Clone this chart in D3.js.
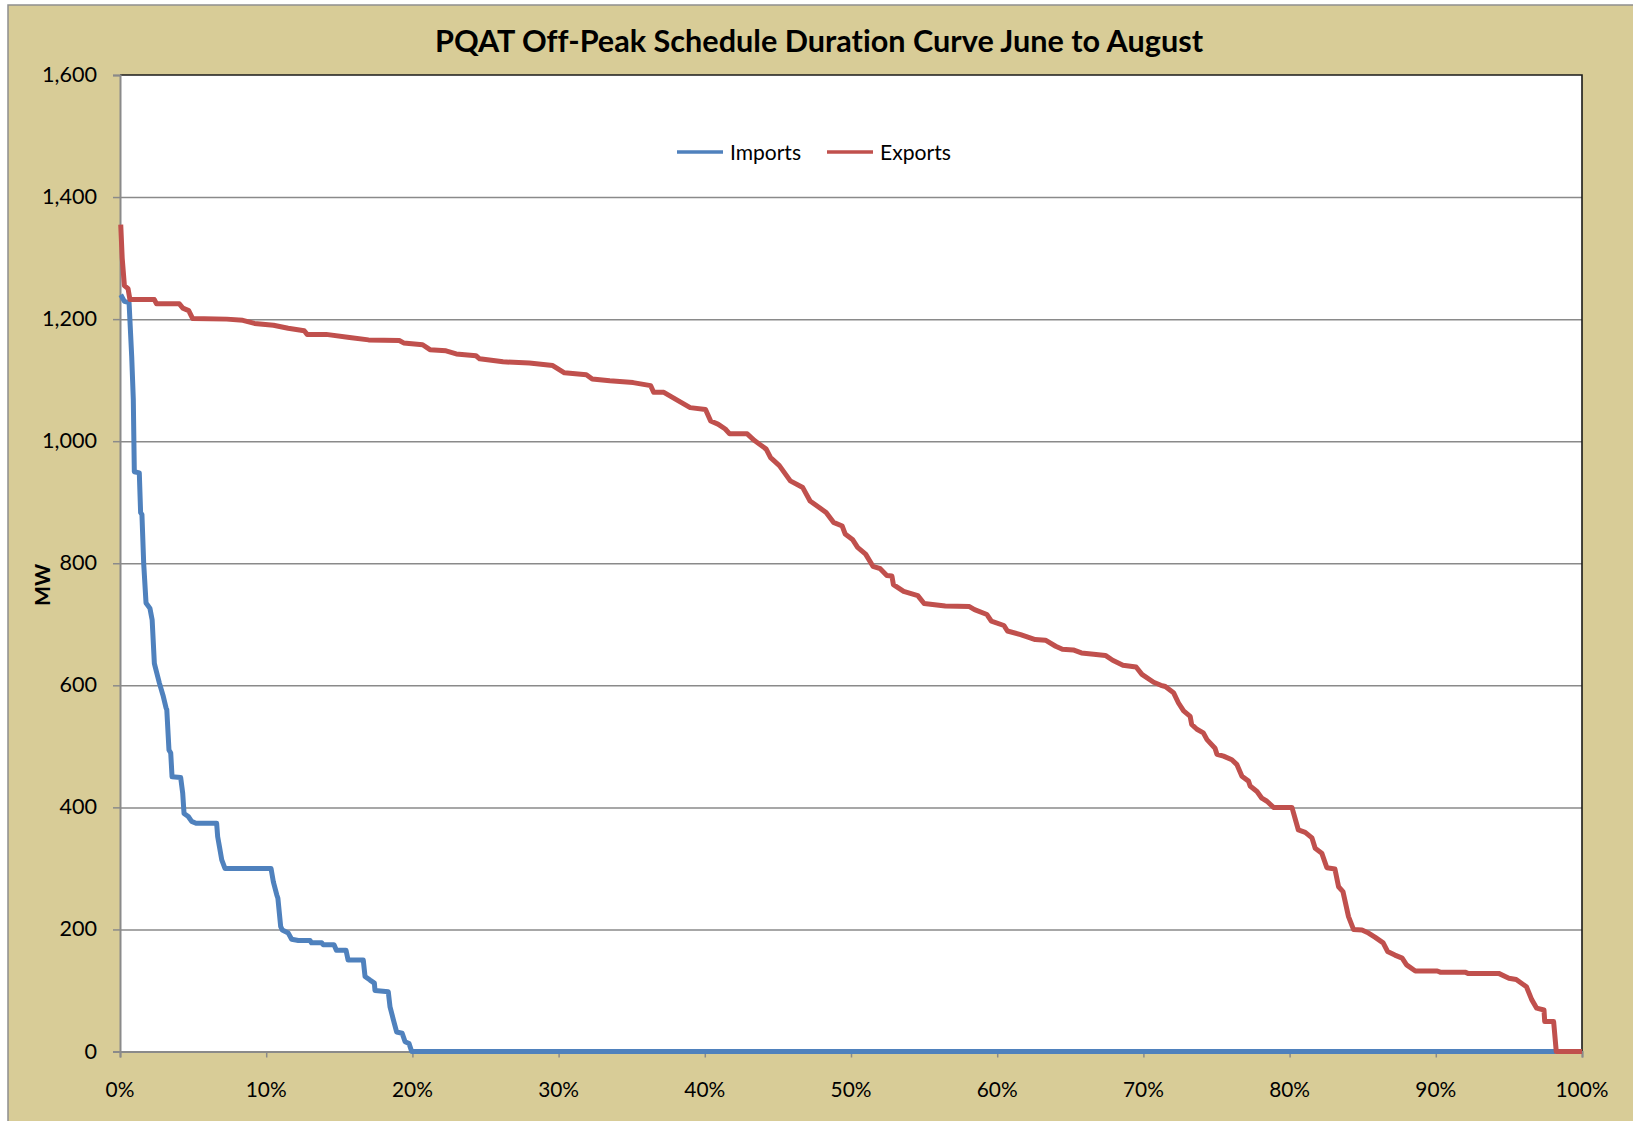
<!DOCTYPE html>
<html>
<head>
<meta charset="utf-8">
<script src="https://cdn.jsdelivr.net/npm/d3@7"></script>
<style>
  body { margin: 0; background: #fff; }
  svg text { font-family: Lato, "Open Sans", sans-serif; fill: #000; font-variant-ligatures: none; }
</style>
</head>
<body>
<svg id="chart" width="1633" height="1121"></svg>
<script>
"use strict";

const title = "PQAT Off-Peak Schedule Duration Curve June to August";
const yTicks = [0, 200, 400, 600, 800, 1000, 1200, 1400, 1600];
const xTicks = [0, 10, 20, 30, 40, 50, 60, 70, 80, 90, 100];
const seriesNames = ["Imports", "Exports"];
const seriesColors = ["#4f81bd", "#c0504d"];

// [percent of hours, MW]
const imports = [
  [0.05,1240],[0.3,1229],[0.62,1227],[0.8,1139],[0.91,1068],[0.98,950],[1.32,948],[1.41,883],
  [1.5,880],[1.62,800],[1.78,735],[2.05,726],[2.2,707],[2.35,636],[2.4,631],[2.69,604],
  [2.96,582],[3.15,563],[3.2,560],[3.35,494],[3.47,489],[3.56,450],[4.15,449],[4.29,423],
  [4.38,390],[4.67,385],[4.9,377],[5.2,374],[6.61,374],[6.68,352],[6.8,336],[6.96,314],
  [7.18,300],[10.33,300],[10.49,278],[10.72,257],[10.8,251],[10.99,205],[11.1,199],[11.51,194],
  [11.74,184],[12.2,182],[13.0,182],[13.1,178],[13.8,178],[13.9,175],[14.64,175],[14.8,166],
  [15.46,166],[15.6,150],[16.64,150],[16.76,123],[17.1,117],[17.4,112],[17.44,100],[18.35,98],
  [18.47,73],[18.7,52],[18.92,32],[19.3,30],[19.5,16],[19.77,13],[19.95,0],[98.2,0]
];

const exports_ = [
  [0.05,1355],[0.15,1300],[0.3,1255],[0.55,1250],[0.68,1232],[2.35,1232],[2.5,1225],[4.06,1225],
  [4.3,1218],[4.7,1214],[4.97,1201],[7.3,1200],[8.4,1198],[9.2,1193],[10.5,1190],[11.5,1185],
  [12.6,1181],[12.8,1175],[14.1,1175],[15.7,1170],[17.0,1166],[19.1,1165],[19.4,1161],[20.7,1158],
  [21.2,1150],[22.3,1148],[23.0,1143],[24.35,1140],[24.6,1135],[26.2,1130],[28.0,1128],[29.6,1124],
  [30.4,1112],[31.9,1109],[32.3,1102],[33.5,1099],[35.1,1096],[36.3,1091],[36.5,1080],[37.2,1080],
  [38.2,1066],[39.0,1055],[40.05,1052],[40.4,1033],[40.9,1028],[41.4,1020],[41.7,1012],[42.9,1012],
  [43.4,1001],[44.2,987],[44.5,973],[45.1,960],[45.85,935],[46.7,924],[47.2,902],[47.85,891],
  [48.3,883],[48.8,867],[49.4,861],[49.6,848],[50.1,839],[50.45,826],[51.0,815],[51.5,795],
  [52.0,791],[52.45,780],[52.8,779],[52.9,765],[53.6,754],[54.57,747],[55.0,734],[56.45,730],
  [58.1,729],[58.45,724],[59.3,716],[59.6,705],[60.46,698],[60.7,689],[61.6,683],[62.6,675],
  [63.3,674],[64.0,664],[64.46,659],[65.2,658],[65.76,653],[66.6,651],[67.4,649],[67.9,641],
  [68.6,633],[69.5,630],[69.9,618],[70.7,605],[71.2,600],[71.5,598],[72.06,588],[72.4,571],
  [72.75,558],[73.2,549],[73.3,536],[73.66,528],[74.1,522],[74.35,511],[74.9,497],[75.03,487],
  [75.48,484],[76.05,478],[76.4,470],[76.74,451],[77.19,443],[77.3,435],[77.77,426],[78.1,415],
  [78.45,410],[78.9,400],[80.16,400],[80.6,363],[81.07,359],[81.53,350],[81.75,333],[82.2,325],
  [82.55,301],[83.1,299],[83.35,270],[83.65,262],[84.03,221],[84.37,200],[84.95,199],[85.4,194],
  [85.86,187],[86.4,178],[86.7,164],[87.2,158],[87.7,153],[88.0,142],[88.6,132],[90.1,132],
  [90.3,130],[92.0,130],[92.2,128],[94.3,128],[95.0,120],[95.5,118],[96.2,106],[96.56,85],
  [96.9,71],[97.4,68],[97.45,49],[98.06,49],[98.24,0],[100,0]
];

let svg = d3.select("#chart"),
  margin = {top: 75, right: 51, bottom: 69.5, left: 120},
  width = 1633 - margin.left - margin.right,
  height = 1121 - margin.top - margin.bottom,
  x = d3.scaleLinear().domain([0, 100]).range([margin.left, margin.left + width]),
  y = d3.scaleLinear().domain([0, 1600]).range([margin.top + height, margin.top]);

// size a text node so it spans a given width
function fit(sel, target){
  let w = sel.node().getComputedTextLength(),
    fs = parseFloat(sel.attr("font-size"));
  sel.attr("font-size", (fs * target / w).toFixed(2));
  return fs * target / w;
}

// chart area
svg.append("rect")
  .attr("x", 8).attr("y", 5)
  .attr("width", 1640).attr("height", 1130)
  .attr("fill", "#d8cc97")
  .attr("stroke", "#8e8e8e")
  .attr("stroke-width", 1.5);

// plot area
svg.append("rect")
  .attr("x", x(0)).attr("y", y(1600))
  .attr("width", width).attr("height", height)
  .attr("fill", "#fff");

svg.append("g")
  .attr("class", "grid")
  .attr("transform", "translate(" + margin.left + ",0)")
  .call(d3.axisLeft(y).tickValues(yTicks.filter(d => d > 0 && d < 1600)).tickSize(-width).tickFormat(""))
  .call(g => g.select(".domain").remove())
  .selectAll("line").attr("stroke", "#8a8a8a").attr("stroke-width", 1.5);

// top / right frame
svg.append("path")
  .attr("d", "M" + x(0) + "," + y(1600) + "H" + x(100) + "V" + y(0))
  .attr("fill", "none")
  .attr("stroke", "#1a1a1a")
  .attr("stroke-width", 1.6);

let yAxis = svg.append("g")
  .attr("transform", "translate(" + margin.left + ",0)")
  .call(d3.axisLeft(y).tickValues(yTicks).tickSize(7).tickFormat(d3.format(",")));
yAxis.select(".domain").attr("stroke", "#8a8a8a").attr("stroke-width", 2);
yAxis.selectAll("line").attr("stroke", "#8a8a8a").attr("stroke-width", 1.5);
yAxis.selectAll("text").remove();

let xAxis = svg.append("g")
  .attr("transform", "translate(0," + y(0) + ")")
  .call(d3.axisBottom(x).tickValues(xTicks).tickSize(6).tickFormat(""));
xAxis.select(".domain").attr("stroke", "#8a8a8a").attr("stroke-width", 2);
xAxis.selectAll("line").attr("stroke", "#8a8a8a").attr("stroke-width", 1.5);

// tick labels
let probe = svg.append("text").attr("font-size", 20).text("1,600"),
  yfs = fit(probe, 55);
probe.remove();
svg.append("g").selectAll("text")
  .data(yTicks)
  .enter().append("text")
  .attr("x", 97)
  .attr("y", d => y(d) + 7)
  .attr("text-anchor", "end")
  .attr("font-size", yfs.toFixed(2))
  .text(d3.format(","));

probe = svg.append("text").attr("font-size", 20).text("100%");
let xfs = fit(probe, 53);
probe.remove();
svg.append("g").selectAll("text")
  .data(xTicks)
  .enter().append("text")
  .attr("x", d => x(d))
  .attr("y", 1097)
  .attr("text-anchor", "middle")
  .attr("font-size", xfs.toFixed(2))
  .text(d => d + "%");

// title and axis label
let t = svg.append("text")
  .attr("x", 819).attr("y", 52)
  .attr("text-anchor", "middle")
  .attr("font-weight", "bold")
  .attr("font-size", 28)
  .text(title);
fit(t, 768);

svg.append("text")
  .attr("transform", "translate(50,585) rotate(-90)")
  .attr("text-anchor", "middle")
  .attr("font-weight", "bold")
  .attr("font-size", 21)
  .text("MW");

// series
let line = d3.line()
  .x(d => x(d[0]))
  .y(d => y(d[1]));

[imports, exports_].forEach(function(data, i){
  svg.append("path")
    .datum(data)
    .attr("fill", "none")
    .attr("stroke", seriesColors[i])
    .attr("stroke-width", 5)
    .attr("stroke-linejoin", "round")
    .attr("d", line);
});

// legend
let legend = svg.append("g").selectAll("g")
  .data(seriesNames)
  .enter().append("g")
  .attr("transform", (d, i) => "translate(" + (677 + i * 150) + ",152)");

legend.append("line")
  .attr("x1", 0).attr("x2", 46)
  .attr("stroke", (d, i) => seriesColors[i])
  .attr("stroke-width", 3.5);

legend.append("text")
  .attr("x", 53).attr("y", 7.5)
  .attr("font-size", 20)
  .text(d => d)
  .each(function(){ fit(d3.select(this), 71); });
</script>
</body>
</html>
